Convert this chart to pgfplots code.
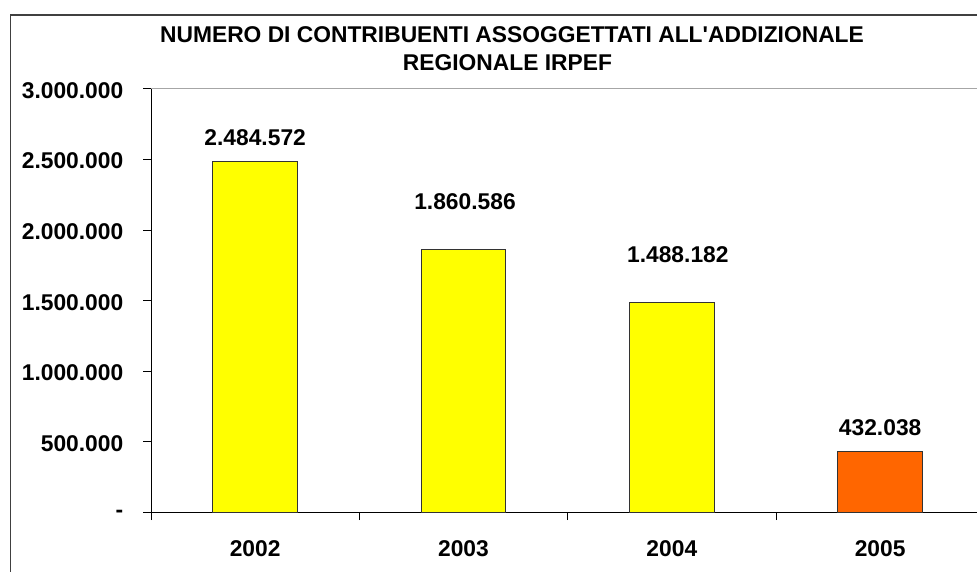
\documentclass[border=0pt]{standalone}
\usepackage{fontspec}
\setmainfont{Liberation Sans}
\usepackage{pgfplots}
\pgfplotsset{compat=1.18}
\usepackage{pgfplotstable}
\pgfplotstableread{
x y lab dy dx
0 2484572 2.484.572 16 0
1 1860586 1.860.586 40 1.5
2 1488182 1.488.182 40 6
}\yellowdata
\pgfplotstableread{
x y lab dy dx
3 432038 432.038 16.5 0
}\orangedata
\definecolor{baryellow}{HTML}{FFFF00}
\definecolor{barorange}{HTML}{FF6600}
\newcommand\chartfont{\fontsize{22.8}{27}\selectfont\bfseries}
\begin{document}
\begin{tikzpicture}
\path[use as bounding box, clip] (0,0) rectangle (977pt,571pt);
\fill[white] (0,0) rectangle (977pt,571pt);
\draw[black!75, line width=1.2pt] (10.7pt,-10pt) -- (10.7pt,556pt) -- (1000pt,556pt);
\node[anchor=base, font=\chartfont] at (512pt,528pt) {NUMERO DI CONTRIBUENTI ASSOGGETTATI ALL\textquotesingle ADDIZIONALE};
\node[anchor=base, font=\chartfont] at (507.5pt,500pt) {REGIONALE IRPEF};
\begin{axis}[
  at={(151pt,58.5pt)}, anchor=south west,
  scale only axis, width=833.33pt, height=423.5pt,
  xmin=-0.5, xmax=3.5, ymin=0, ymax=3000000,
  axis lines=left, axis line style={-, black, line width=1pt},
  ybar, bar width=84.6pt, bar shift=0pt,
  xtick={-0.5,0.5,1.5,2.5,3.5}, x tick label as interval,
  xticklabels={2002,2003,2004,2005},
  ytick={0,500000,1000000,1500000,2000000,2500000,3000000},
  yticklabels={-,500.000,1.000.000,1.500.000,2.000.000,2.500.000,3.000.000},
  scaled y ticks=false,
  tick align=outside, major tick length=7.5pt,
  tick style={black, line width=1pt},
  ticklabel style={font=\chartfont, inner sep=0pt},
  yticklabel style={anchor=east, xshift=-20pt, yshift=-1.5pt},
  xticklabel style={anchor=base, yshift=-36pt},
  point meta=explicit symbolic,
  nodes near coords={\pgfplotspointmeta},
  visualization depends on={\thisrow{dy} \as \dy},
  visualization depends on={\thisrow{dx} \as \dx},
  every node near coord/.append style={font=\chartfont, anchor=base, inner sep=0pt, yshift=\dy pt, xshift=\dx pt, black},
]
\draw[black!35, line width=1pt] (rel axis cs:0,1) -- (rel axis cs:1,1);
\addplot[fill=baryellow, draw=black!80, line width=1pt] table[x=x, y=y, meta=lab] {\yellowdata};
\addplot[fill=barorange, draw=black!80, line width=1pt] table[x=x, y=y, meta=lab] {\orangedata};
\end{axis}
\end{tikzpicture}
\end{document}
